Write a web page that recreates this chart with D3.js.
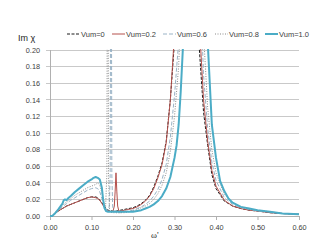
<!DOCTYPE html>
<html><head><meta charset="utf-8">
<script src="https://cdn.jsdelivr.net/npm/d3@7/dist/d3.min.js"></script>
<style>body{margin:0;background:#fff}svg{display:block}</style>
</head><body><svg id="c" width="314" height="241"></svg>
<script>
const seriesNames = ["Vum=0", "Vum=0.2", "Vum=0.6", "Vum=0.8", "Vum=1.0"];
const xTicks = [0, 0.1, 0.2, 0.3, 0.4, 0.5, 0.6];
const yTicks = [0, 0.02, 0.04, 0.06, 0.08, 0.10, 0.12, 0.14, 0.16, 0.18, 0.20];

const omega0 = [0,0.005,0.01,0.02,0.03,0.04,0.05,0.06,0.07,0.08,0.09,0.10,0.11,0.115,0.12,0.125,0.13,0.135,0.14,0.15,0.16,0.17,0.18,0.19,0.20,0.21,0.22,0.23,0.24,0.25,0.26,0.27,0.28,0.29,0.30,0.31,0.32,0.33,0.34,0.35,0.36,0.37,0.38,0.39,0.40,0.42,0.44,0.46,0.48,0.50,0.53,0.56,0.60];
const chi0   = [0,0,0.002,0.006,0.009,0.012,0.014,0.016,0.018,0.020,0.022,0.023,0.023,0.022,0.019,0.016,0.012,0.009,0.007,0.006,0.006,0.007,0.008,0.009,0.010,0.012,0.015,0.019,0.025,0.035,0.048,0.064,0.09,0.14,0.21,0.35,0.6,0.8,0.6,0.32,0.2,0.125,0.085,0.05,0.033,0.018,0.012,0.009,0.007,0.006,0.004,0.003,0.002];

const omega02 = [0,0.005,0.01,0.02,0.03,0.04,0.05,0.06,0.07,0.08,0.09,0.10,0.11,0.115,0.12,0.125,0.13,0.135,0.14,0.15,0.152,0.155,0.157,0.159,0.161,0.163,0.166,0.17,0.18,0.19,0.20,0.21,0.22,0.23,0.24,0.25,0.26,0.27,0.28,0.29,0.30,0.31,0.32,0.33,0.34,0.35,0.36,0.37,0.38,0.39,0.40,0.42,0.44,0.46,0.48,0.50,0.53,0.56,0.60];
const chi02   = [0,0,0.002,0.006,0.009,0.012,0.014,0.016,0.018,0.020,0.022,0.023,0.022,0.021,0.019,0.015,0.011,0.008,0.006,0.005,0.006,0.012,0.03,0.052,0.03,0.012,0.006,0.006,0.007,0.008,0.009,0.011,0.014,0.018,0.024,0.033,0.046,0.062,0.088,0.14,0.22,0.36,0.6,0.8,0.65,0.38,0.23,0.14,0.09,0.055,0.036,0.019,0.012,0.009,0.007,0.006,0.004,0.003,0.002];

const omega06 = [0,0.005,0.01,0.02,0.03,0.04,0.05,0.06,0.07,0.08,0.09,0.10,0.11,0.115,0.12,0.125,0.13,0.135,0.14,0.143,0.145,0.147,0.149,0.151,0.153,0.16,0.17,0.18,0.19,0.20,0.21,0.22,0.23,0.24,0.25,0.26,0.27,0.28,0.29,0.30,0.31,0.32,0.33,0.34,0.35,0.36,0.37,0.38,0.39,0.40,0.42,0.44,0.46,0.48,0.50,0.53,0.56,0.60];
const chi06   = [0,0,0.002,0.007,0.011,0.015,0.019,0.022,0.025,0.028,0.031,0.033,0.034,0.033,0.029,0.021,0.013,0.008,0.007,0.012,0.05,0.5,0.05,0.012,0.007,0.004,0.004,0.005,0.006,0.007,0.009,0.011,0.014,0.018,0.024,0.032,0.044,0.062,0.095,0.145,0.21,0.4,0.7,0.8,0.55,0.3,0.17,0.105,0.065,0.043,0.022,0.014,0.010,0.008,0.006,0.005,0.003,0.002];

const omega08 = [0,0.005,0.01,0.02,0.03,0.04,0.05,0.06,0.07,0.08,0.09,0.10,0.11,0.115,0.12,0.125,0.13,0.134,0.137,0.139,0.141,0.143,0.145,0.15,0.16,0.17,0.18,0.19,0.20,0.21,0.22,0.23,0.24,0.25,0.26,0.27,0.28,0.29,0.30,0.31,0.32,0.33,0.34,0.35,0.36,0.37,0.38,0.39,0.40,0.42,0.44,0.46,0.48,0.50,0.53,0.56,0.60];
const chi08   = [0,0,0.003,0.008,0.013,0.017,0.021,0.025,0.028,0.031,0.034,0.036,0.038,0.040,0.037,0.028,0.016,0.011,0.05,0.5,0.05,0.010,0.005,0.004,0.004,0.004,0.004,0.005,0.006,0.008,0.010,0.012,0.015,0.020,0.027,0.037,0.052,0.078,0.12,0.18,0.31,0.6,0.85,0.7,0.4,0.22,0.13,0.08,0.052,0.026,0.016,0.011,0.008,0.007,0.005,0.003,0.002];

const omega10 = [0,0.005,0.01,0.02,0.03,0.033,0.036,0.04,0.045,0.05,0.06,0.07,0.08,0.09,0.10,0.105,0.11,0.115,0.12,0.125,0.128,0.131,0.135,0.14,0.15,0.16,0.17,0.18,0.19,0.20,0.21,0.22,0.23,0.24,0.25,0.26,0.27,0.28,0.29,0.30,0.305,0.31,0.315,0.32,0.33,0.34,0.35,0.36,0.37,0.38,0.39,0.40,0.41,0.42,0.43,0.44,0.46,0.48,0.50,0.53,0.56,0.60];
const chi10   = [0,0,0.002,0.008,0.015,0.019,0.020,0.019,0.022,0.024,0.029,0.033,0.037,0.041,0.044,0.046,0.047,0.046,0.044,0.034,0.02,0.01,0.006,0.005,0.005,0.005,0.005,0.005,0.005,0.005,0.006,0.007,0.009,0.011,0.014,0.018,0.024,0.033,0.047,0.07,0.085,0.11,0.15,0.2,0.38,0.7,0.9,0.7,0.4,0.21,0.11,0.07,0.042,0.03,0.021,0.016,0.011,0.009,0.007,0.005,0.003,0.002];

const omegas = [omega0, omega02, omega06, omega08, omega10];
const chis = [chi0, chi02, chi06, chi08, chi10];
const colors = ["#1a1a1a", "#b5504c", "#9ab3c6", "#8a8a8a", "#4bacc6"];
const widths = [1, 1, 1, 1, 2];
const dashes = ["3,1.5", null, "4,2", "1,1.5", null];

const svg = d3.select("#c");
const L = 50, R = 299, T = 50, B = 216;
const x = d3.scaleLinear().domain([0, 0.6]).range([L, R]);
const y = d3.scaleLinear().domain([0, 0.2]).range([B, T]);
const font = "'Liberation Sans', Arial, sans-serif";

svg.append("g").selectAll("line").data(yTicks).join("line")
  .attr("x1", L - 4).attr("x2", R).attr("y1", d => y(d)).attr("y2", d => y(d))
  .attr("stroke", "#c9c9c9").attr("stroke-width", 1).attr("shape-rendering", "crispEdges");
svg.append("line").attr("x1", L).attr("x2", L).attr("y1", T).attr("y2", B)
  .attr("stroke", "#b0b0b0").attr("shape-rendering", "crispEdges");
const xAxis = svg.append("g").attr("transform", `translate(0,${B})`)
  .call(d3.axisBottom(x).tickValues(xTicks).tickFormat(d3.format(".2f")).tickSize(4).tickPadding(5));
xAxis.select(".domain").attr("stroke", "#b0b0b0");
xAxis.selectAll(".tick line").attr("stroke", "#b0b0b0");
xAxis.selectAll("text").attr("font-family", font).attr("font-size", 7.3).attr("fill", "#404040");
const yAxis = svg.append("g").attr("transform", `translate(${L},0)`)
  .call(d3.axisLeft(y).tickValues(yTicks).tickFormat(d3.format(".2f")).tickSize(0).tickPadding(10));
yAxis.select(".domain").remove();
yAxis.selectAll("text").attr("font-family", font).attr("font-size", 7.3).attr("fill", "#404040");

svg.append("clipPath").attr("id", "clip").append("rect")
  .attr("x", L).attr("y", T - 1).attr("width", R - L + 2).attr("height", B - T + 2);

const line = d3.line().x(d => x(d[0])).y(d => y(d[1]));
const g = svg.append("g").attr("clip-path", "url(#clip)");
omegas.forEach((om, i) => {
  const pts = om.map((w, j) => [w, chis[i][j]]);
  g.append("path").datum(pts).attr("d", line)
    .attr("fill", "none").attr("stroke", colors[i]).attr("stroke-width", widths[i])
    .attr("stroke-dasharray", dashes[i]).attr("stroke-linejoin", "round");
});

const legX = [67, 112, 163, 215, 265];
const leg = svg.append("g");
seriesNames.forEach((n, i) => {
  leg.append("line").attr("x1", legX[i]).attr("x2", legX[i] + 13).attr("y1", 34).attr("y2", 34)
    .attr("stroke", colors[i]).attr("stroke-width", widths[i]).attr("stroke-dasharray", dashes[i]);
  leg.append("text").attr("x", legX[i] + 14).attr("y", 36.6).text(n)
    .attr("font-family", font).attr("font-size", 7.5).attr("fill", "#404040");
});

svg.append("text").attr("x", 18).attr("y", 41).text("Im χ")
  .attr("font-family", font).attr("font-size", 9).attr("fill", "#262626");
svg.append("text").attr("x", 151).attr("y", 238).text("ω'")
  .attr("font-family", "'Liberation Serif', 'DejaVu Serif', serif").attr("font-size", 9).attr("fill", "#262626");
</script></body></html>
